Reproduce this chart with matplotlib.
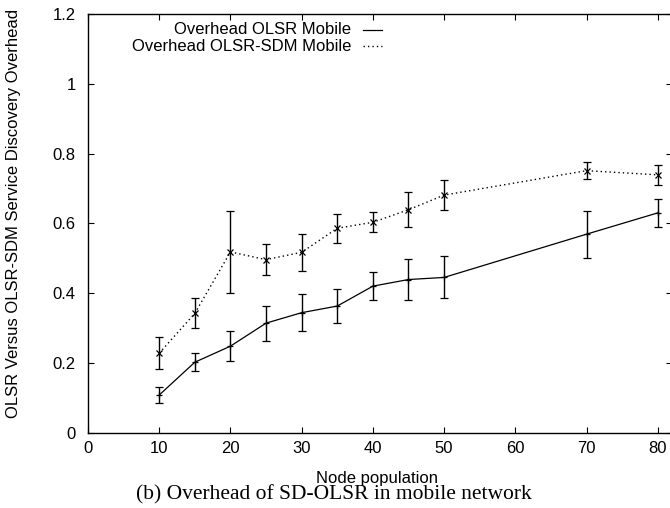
import matplotlib
matplotlib.use("Agg")
import matplotlib.pyplot as plt
from matplotlib.lines import Line2D

# node population on the x axis
nodes = [10, 15, 20, 25, 30, 35, 40, 45, 50, 70, 80]

# mean overhead and error (half width) for each protocol
olsr_mean = [0.108, 0.202, 0.248, 0.314, 0.344, 0.363, 0.420, 0.439, 0.445, 0.569, 0.630]
olsr_err = [0.022, 0.025, 0.043, 0.050, 0.053, 0.048, 0.041, 0.060, 0.060, 0.067, 0.041]

sdm_mean = [0.228, 0.342, 0.518, 0.496, 0.517, 0.586, 0.603, 0.639, 0.681, 0.751, 0.739]
sdm_err = [0.046, 0.043, 0.117, 0.044, 0.053, 0.042, 0.029, 0.050, 0.042, 0.024, 0.029]

labels = ["Overhead OLSR Mobile", "Overhead OLSR-SDM Mobile"]
xticks = [0, 10, 20, 30, 40, 50, 60, 70, 80]
yticks = [0, 0.2, 0.4, 0.6, 0.8, 1, 1.2]
ytick_text = ["0", "0.2", "0.4", "0.6", "0.8", "1", "1.2"]

plt.rcParams['font.family'] = ['Liberation Sans', 'DejaVu Sans']

W, H = 670, 508
fig = plt.figure(figsize=(6.7, 5.08), dpi=100)
ax = fig.add_axes([88 / W, 75.3 / H, 584 / W, 418.7 / H])

dotted = (0, (1, 2.2))
ax.errorbar(nodes, olsr_mean, yerr=olsr_err, color='black', linewidth=0.9,
            linestyle='-', marker='+', markersize=5, markeredgewidth=0.9,
            elinewidth=1.0, capsize=3, capthick=1.0)
ax.errorbar(nodes, sdm_mean, yerr=sdm_err, color='black', linewidth=1.0,
            linestyle=dotted, marker='x', markersize=5, markeredgewidth=0.9,
            elinewidth=1.0, capsize=3, capthick=1.0)

ax.set_xlim(0, 82)
ax.set_ylim(0, 1.2)
ax.set_xticks(xticks)
ax.set_yticks(yticks)
ax.set_yticklabels(ytick_text)
ax.tick_params(direction='in', length=4.5, width=0.8, labelsize=12,
               top=True, right=True)
ax.tick_params(axis='x', pad=6)
ax.tick_params(axis='y', pad=9)
for s in ax.spines.values():
    s.set_linewidth(1.0)

# key in the top left corner: right aligned text, line sample after it
def axx(px):
    return (px - 88) / 584

def axy(py):
    return (432.7 - py) / 418.7

styles = ['-', dotted]
widths = [0.9, 1.0]
text_base = [34.3, 50.7]
line_y = [29.5, 45.7]
for lab, ls, lw, tb, ly in zip(labels, styles, widths, text_base, line_y):
    ax.text(axx(351), axy(tb), lab, transform=ax.transAxes, ha='right',
            va='baseline', fontsize=12)
    ax.add_line(Line2D([axx(363), axx(382)], [axy(ly), axy(ly)],
                       transform=ax.transAxes, color='black', linewidth=lw,
                       linestyle=ls))

fig.text(14 / W, 1 - 213 / H, "OLSR Versus OLSR-SDM Service Discovery Overhead",
         rotation=90, ha='center', va='center', fontsize=12)
fig.text(377 / W, 1 - 483.3 / H, "Node population", ha='center', va='baseline',
         fontsize=12)
fig.text(334 / W, 1 - 499.3 / H, "(b) Overhead of SD-OLSR in mobile network",
         ha='center', va='baseline', fontsize=15.5, family='Liberation Serif')

fig.savefig("out.png", dpi=100)
